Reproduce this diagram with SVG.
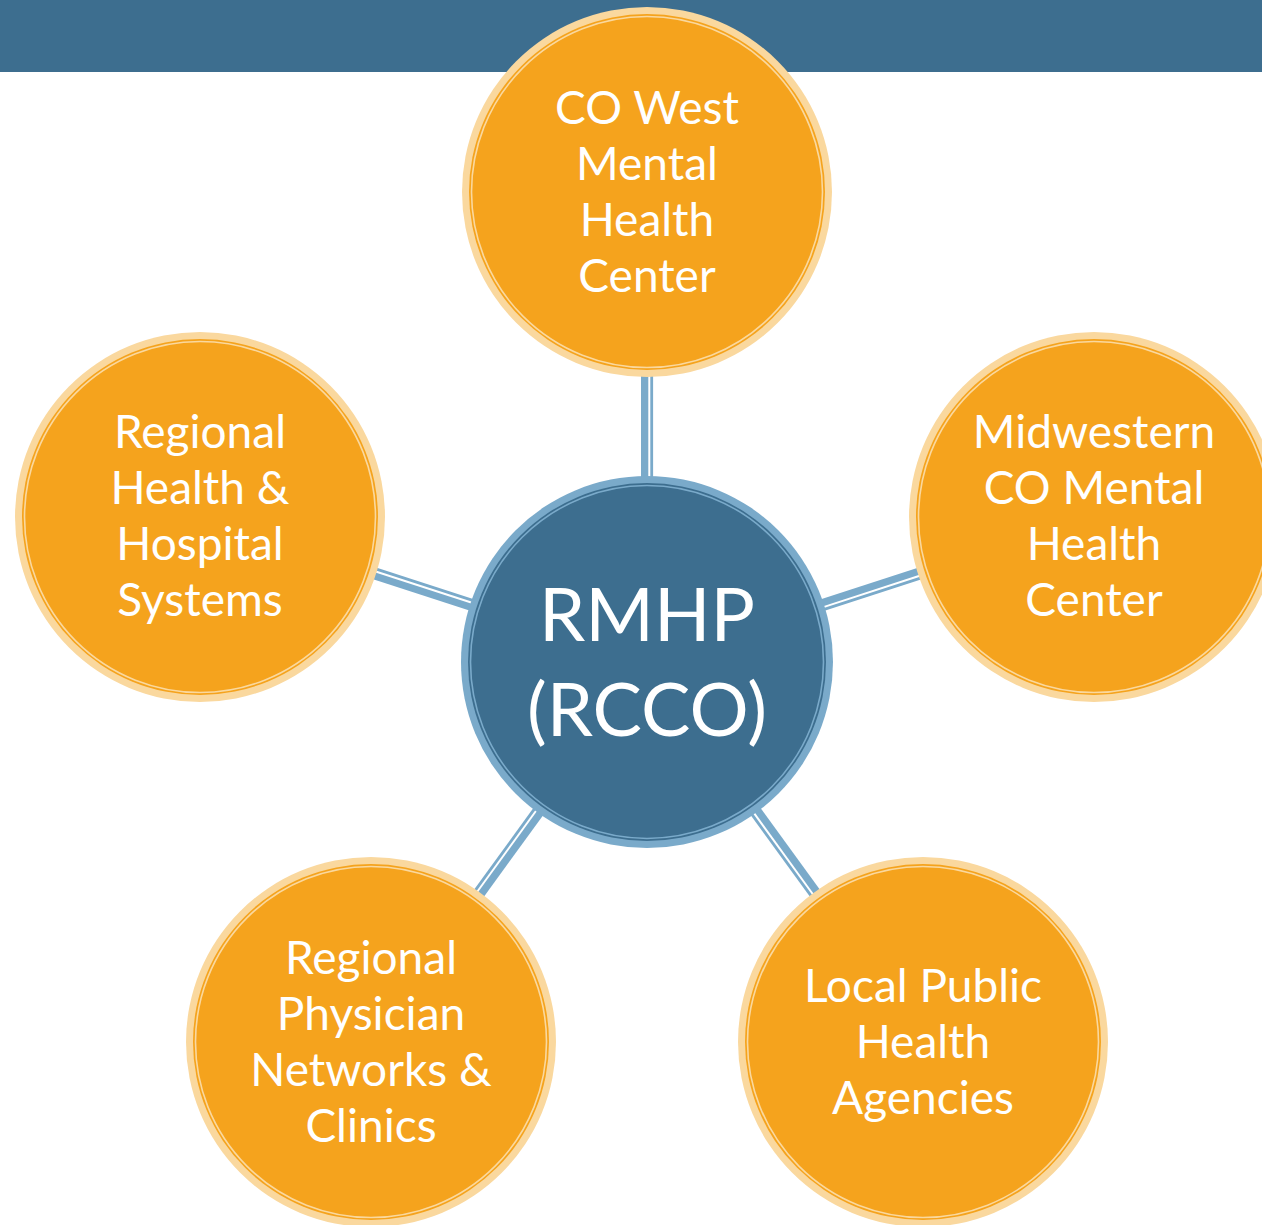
<svg xmlns="http://www.w3.org/2000/svg" width="1262" height="1225" viewBox="0 0 1262 1225">
  <style>
    .band { fill: #3d6e8f; }
    .peach { fill: #fad89e; }
    .orange { fill: #f5a31d; }
    .ringO { fill: none; stroke: #fad89e; stroke-width: 1.6; }
    .lblue { fill: #7aaaca; }
    .dblue { fill: #3d6e8f; }
    .ringB { fill: none; stroke: #7aaaca; stroke-width: 1.6; }
    .lbl { fill: #ffffff; font-family: Lato, "Open Sans", "Liberation Sans", sans-serif; font-size: 46px; text-anchor: middle; }
    .big { fill: #ffffff; font-family: Lato, "Open Sans", "Liberation Sans", sans-serif; font-size: 74px; text-anchor: middle; }
  </style>
  <defs>
    <!-- double-rule spoke, drawn pointing straight up from the hub -->
    <g id="spoke">
      <rect x="641" y="376" width="7.3" height="102" fill="#7aaaca"/>
      <rect x="650.3" y="376" width="2.8" height="102" fill="#7aaaca"/>
    </g>
    <!-- orange satellite disc centred on 0,0 -->
    <g id="disc">
      <circle r="185" class="peach"/>
      <circle r="178" class="orange"/>
      <circle r="175.5" class="ringO"/>
    </g>
  </defs>

  <rect class="band" x="0" y="0" width="1262" height="72"/>

  <g id="connectors">
    <use href="#spoke"/>
    <use href="#spoke" transform="rotate(72 647 662)"/>
    <use href="#spoke" transform="rotate(144 647 662)"/>
    <use href="#spoke" transform="rotate(216 647 662)"/>
    <use href="#spoke" transform="rotate(288 647 662)"/>
  </g>

  <g id="hub">
    <circle cx="647" cy="662" r="186" class="lblue"/>
    <circle cx="647" cy="662" r="179" class="dblue"/>
    <circle cx="647" cy="662" r="176.5" class="ringB"/>
    <text class="big" x="647" y="641">RMHP</text>
    <text class="big" x="647" y="736">(RCCO)</text>
  </g>

  <g id="co-west">
    <use href="#disc" x="647" y="192"/>
    <text class="lbl" x="647" y="124">CO West</text>
    <text class="lbl" x="647" y="180">Mental</text>
    <text class="lbl" x="647" y="236">Health</text>
    <text class="lbl" x="647" y="292">Center</text>
  </g>

  <g id="midwestern">
    <use href="#disc" x="1094" y="517"/>
    <text class="lbl" x="1094" y="448">Midwestern</text>
    <text class="lbl" x="1094" y="504">CO Mental</text>
    <text class="lbl" x="1094" y="560">Health</text>
    <text class="lbl" x="1094" y="616">Center</text>
  </g>

  <g id="public-health">
    <use href="#disc" x="923" y="1042"/>
    <text class="lbl" x="923" y="1002">Local Public</text>
    <text class="lbl" x="923" y="1058">Health</text>
    <text class="lbl" x="923" y="1114">Agencies</text>
  </g>

  <g id="physician-networks">
    <use href="#disc" x="371" y="1042"/>
    <text class="lbl" x="371" y="974">Regional</text>
    <text class="lbl" x="371" y="1030">Physician</text>
    <text class="lbl" x="371" y="1086">Networks &amp;</text>
    <text class="lbl" x="371" y="1142">Clinics</text>
  </g>

  <g id="hospital-systems">
    <use href="#disc" x="200" y="517"/>
    <text class="lbl" x="200" y="448">Regional</text>
    <text class="lbl" x="200" y="504">Health &amp;</text>
    <text class="lbl" x="200" y="560">Hospital</text>
    <text class="lbl" x="200" y="616">Systems</text>
  </g>
</svg>
